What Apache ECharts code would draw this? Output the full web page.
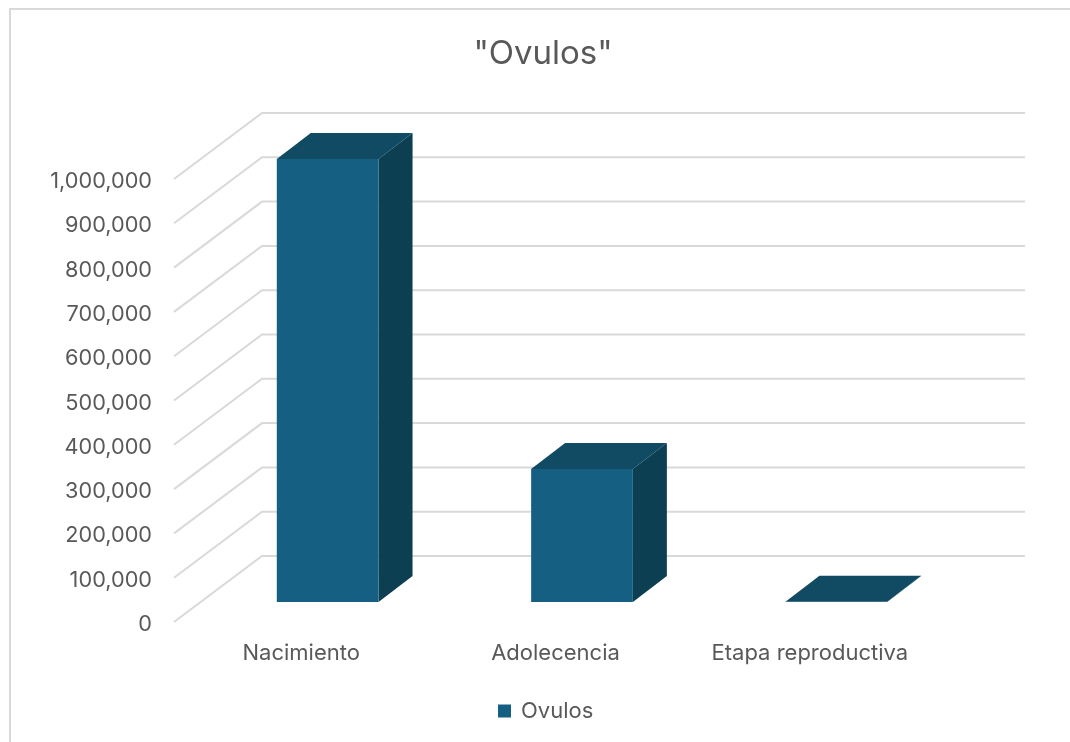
<!DOCTYPE html>
<html>
<head>
<meta charset="utf-8">
<style>
html,body{margin:0;padding:0;background:#fff;overflow:hidden;width:1070px;height:742px}
#chart{position:absolute;left:0;top:0;width:1070px;height:742px}
#frame{position:absolute;left:9px;top:8px;width:1100px;height:800px;border:2px solid #d9d9d9;pointer-events:none}
</style>
<script src="https://cdn.jsdelivr.net/npm/echarts@6/dist/echarts.min.js"></script>
</head>
<body>
<div id="chart"></div>
<div id="frame"></div>
<script>
const titleText = '"Ovulos"';
const seriesName = 'Ovulos';
const categories = ['Nacimiento', 'Adolecencia', 'Etapa reproductiva'];
const ovulos = [1000000, 300000, 400];
const gridValues = [0, 100000, 200000, 300000, 400000, 500000, 600000, 700000, 800000, 900000, 1000000];

const FONT = 'Inter';
const TEXT = '#595959';
const LIFT = -2.5;                   // labels sit slightly below the front edge of the floor
const WALL = {dx: 88, dy: -66};      // floor depth of the 3D box
const BAR = {dx: 26.5, dy: -20, depthX: 34, depthY: -26, widthRatio: 0.4};
const COLORS = {front: '#156082', top: '#114A63', side: '#0C3F52', grid: '#D9D9D9'};

function renderGrid(params, api) {
  const cs = params.coordSys;
  const y = api.coord([0, api.value(0)])[1] + LIFT;
  const x0 = cs.x;
  const x1 = cs.x + WALL.dx;
  const x2 = cs.x + cs.width + WALL.dx;
  return {
    type: 'polyline',
    shape: {points: [[x0, y], [x1, y + WALL.dy], [x2, y + WALL.dy]]},
    style: {fill: null, stroke: COLORS.grid, lineWidth: 2}
  };
}

function renderBar(params, api) {
  const idx = api.value(0);
  const base = api.coord([idx, 0]);
  const head = api.coord([idx, api.value(1)]);
  const w = api.size([1, 0])[0] * BAR.widthRatio;
  const l = base[0] + BAR.dx - w / 2;
  const r = l + w;
  const b = base[1] + BAR.dy + LIFT;
  const t = head[1] + BAR.dy + LIFT;
  const dx = BAR.depthX, dy = BAR.depthY;
  return {
    type: 'group',
    children: [
      {type: 'polygon', shape: {points: [[r, t], [r + dx, t + dy], [r + dx, b + dy], [r, b]]},
        style: {fill: COLORS.side}},
      {type: 'polygon', shape: {points: [[l, t], [l + dx, t + dy], [r + dx, t + dy], [r, t]]},
        style: {fill: COLORS.top}},
      {type: 'rect', shape: {x: l, y: t, width: w, height: b - t},
        style: {fill: COLORS.front}}
    ]
  };
}

const chart = echarts.init(document.getElementById('chart'), null, {renderer: 'canvas'});
chart.setOption({
  animation: false,
  backgroundColor: '#fff',
  title: {
    text: titleText, left: 538, textAlign: 'center', top: 33,
    textStyle: {fontFamily: FONT, fontSize: 33, fontWeight: 400, color: TEXT}
  },
  legend: {
    data: [{name: seriesName, icon: 'rect', itemStyle: {color: COLORS.front}}],
    left: 493, top: 695, itemWidth: 13, itemHeight: 13, itemGap: 11,
    textStyle: {fontFamily: FONT, fontSize: 22, color: TEXT, padding: [0, 0, 0, 5]}
  },
  grid: {left: 174, top: 181.5, width: 763, height: 443},
  xAxis: {
    type: 'category', data: categories,
    axisLine: {show: false}, axisTick: {show: false}, splitLine: {show: false},
    axisLabel: {fontFamily: FONT, fontSize: 22, color: TEXT, margin: 17.5, interval: 0}
  },
  yAxis: {
    type: 'value', min: 0, max: 1000000, interval: 100000,
    axisLine: {show: false}, axisTick: {show: false}, splitLine: {show: false},
    axisLabel: {
      fontFamily: FONT, fontSize: 21.7, color: TEXT, margin: 22,
      formatter: v => v.toLocaleString('en-US')
    }
  },
  series: [
    {
      name: 'grid', type: 'custom', renderItem: renderGrid, silent: true, clip: false, z: 1,
      encode: {y: 0}, data: gridValues.map(v => [v])
    },
    {
      name: seriesName, type: 'custom', renderItem: renderBar, clip: false, z: 2,
      itemStyle: {color: COLORS.front},
      encode: {x: 0, y: 1}, data: ovulos.map((v, i) => [i, v])
    }
  ]
});
</script>
</body>
</html>
